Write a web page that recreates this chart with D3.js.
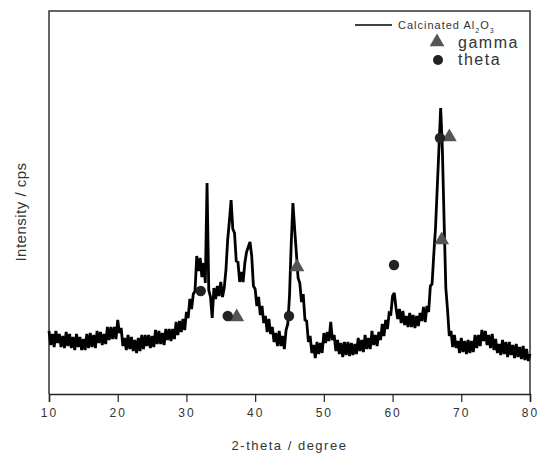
<!DOCTYPE html>
<html><head><meta charset="utf-8">
<script src="https://cdn.jsdelivr.net/npm/d3@7"></script>
<style>
body{margin:0;background:#fff;}
text{font-family:"Liberation Sans",Arial,sans-serif;fill:#333;}
</style></head>
<body><svg id="c" width="546" height="456"></svg>
<script>
// 2-theta from 10 to 80 in 0.25 degree steps; intensities (arbitrary cps units)
const twoThetaStart = 10, twoThetaStep = 0.25;
const intensity = [
63,49,60,47, 63,51,60,47, 58,46,62,48, 60,46,57,44, 60,47,57,44,
55,44,60,46, 61,47,59,46, 63,51,62,49, 60,50,67,54, 67,55,67,55,
74,61,66,48, 56,44,59,45, 57,43,54,41, 56,43,59,45, 59,48,59,46,
58,47,64,50, 63,50,61,49, 65,54,65,53, 65,55,72,59, 73,62,75,64,
82,76,95,85, 100,103,138,123, 136,117,131,111, 211,104,97,76, 106,95,108,98,
112,97,106,124, 154,173,194,165, 161,133,132,112, 122,112,131,142, 147,152,138,108,
105,88,97,79, 88,71,78,62, 75,60,67,52, 61,48,63,48, 58,45,64,70,
98,150,191,165, 141,116,111,92, 100,74,73,52, 58,41,49,36, 52,40,51,41,
61,51,62,53, 72,54,59,43, 54,40,51,37, 52,39,52,38, 51,39,50,40,
56,43,54,42, 59,45,56,45, 63,49,59,48, 62,54,70,58, 74,65,81,80,
98,101,86,75, 85,71,83,69, 78,67,81,67, 79,66,78,68, 81,73,87,72,
88,82,108,110, 140,166,206,246, 286,244,173,106, 84,58,63,47, 59,46,53,41,
56,42,53,40, 54,41,53,42, 59,46,59,48, 64,53,63,49, 59,46,60,44,
55,41,50,39, 54,40,52,37, 52,39,49,36, 50,37,47,35, 48,34,45,33,
40
];
const gammaX = [37.32, 46.09, 67.15, 68.26];
const gammaY = [77, 127, 154, 257];
const thetaX = [32.08, 36.01, 44.93, 60.21, 66.90];
const thetaY = [103, 78, 78, 129, 256];
const xTicks = [10,20,30,40,50,60,70,80];

const svg = d3.select("#c");
const L = 49, R = 530, T = 11, B = 394;
const x = d3.scaleLinear().domain([10,80]).range([L,R]);
const y = d3.scaleLinear().domain([0,383]).range([B,T]);

const pts = intensity.map((v,i)=>[twoThetaStart + i*twoThetaStep, v]);

// frame
svg.append("path").attr("d",`M${L},${B}V${T}H${R}V${B}`)
  .attr("fill","none").attr("stroke","#333").attr("stroke-width",1.5);

// x axis
const xa = svg.append("g").attr("transform",`translate(0,${B})`)
  .call(d3.axisBottom(x).tickValues(xTicks).tickSize(8).tickPadding(6).tickFormat(d3.format("d")));
xa.select(".domain").attr("stroke","#222").attr("stroke-width",1.5);
xa.selectAll(".tick line").attr("stroke","#222").attr("stroke-width",1.2);
xa.selectAll(".tick text").style("font-size","12px").style("letter-spacing","2px").attr("fill","#444")
  .style("font-family","'Liberation Sans',Arial,sans-serif");

// curve
svg.append("path").datum(pts)
  .attr("d", d3.line().x(d=>x(d[0])).y(d=>y(d[1])))
  .attr("fill","none").attr("stroke","#000").attr("stroke-width",2.8).attr("stroke-linejoin","miter").attr("stroke-miterlimit",3);

// markers
const tri = d3.symbol().type(d3.symbolTriangle).size(95);
svg.selectAll(".g").data(gammaX).enter().append("path")
  .attr("d",tri).attr("fill","#555")
  .attr("transform",(d,i)=>`translate(${x(d)},${y(gammaY[i])})`);
svg.selectAll(".t").data(thetaX).enter().append("circle")
  .attr("cx",d=>x(d)).attr("cy",(d,i)=>y(thetaY[i])).attr("r",5.2).attr("fill","#222");

// axis titles
svg.append("text").attr("x",(L+R)/2).attr("y",450).attr("text-anchor","middle")
  .style("font-size","13px").style("letter-spacing","1.5px").text("2-theta / degree");
svg.append("text").attr("transform","translate(26,212) rotate(-90)").attr("text-anchor","middle")
  .style("font-size","15px").style("letter-spacing","0.5px").text("Intensity / cps");

// legend
const lg = svg.append("g");
lg.append("line").attr("x1",355).attr("x2",392).attr("y1",25).attr("y2",25).attr("stroke","#000").attr("stroke-width",1.4);
const lt = lg.append("text").attr("x",398).attr("y",29).style("font-size","11px").style("letter-spacing","1px");
lt.append("tspan").text("Calcinated Al");
lt.append("tspan").attr("dy",4).style("font-size","7px").text("2");
lt.append("tspan").attr("dy",-4).text("O");
lt.append("tspan").attr("dy",4).style("font-size","7px").text("3");
lg.append("path").attr("d",tri).attr("fill","#555").attr("transform","translate(437,42)");
lg.append("text").attr("x",458).attr("y",48).style("font-size","16px").style("letter-spacing","1.5px").text("gamma");
lg.append("circle").attr("cx",438).attr("cy",60).attr("r",5).attr("fill","#222");
lg.append("text").attr("x",458).attr("y",65).style("font-size","16px").style("letter-spacing","1.5px").text("theta");
</script></body></html>
